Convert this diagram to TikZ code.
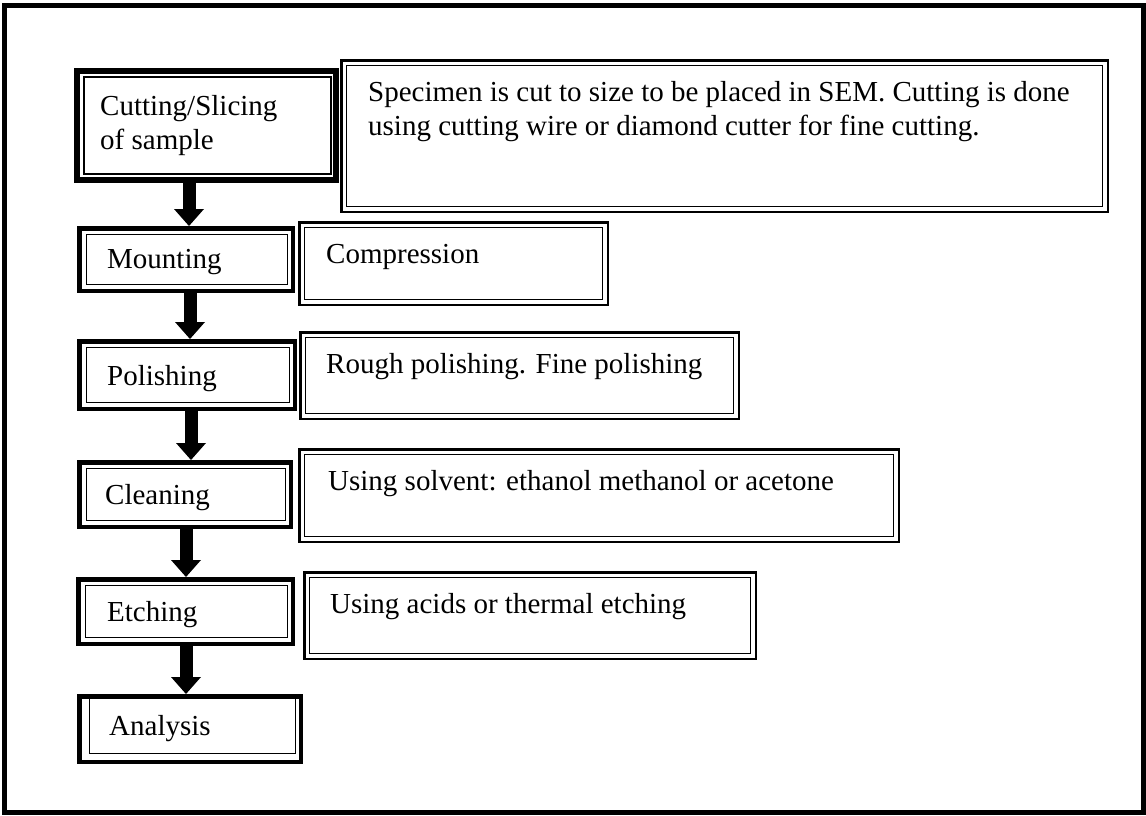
\documentclass[tikz,border=0pt]{standalone}
\usepackage{fontspec}
\setmainfont{Liberation Serif}
\usetikzlibrary{arrows.meta}

\tikzset{
  % thin rule drawn inside a box, inset from its border (left, top, right, bottom)
  inset/.style n args={4}{path picture={
    \draw[line width=1.1pt]
      ([shift={(#1pt,-#2pt)}]path picture bounding box.north west) rectangle
      ([shift={(-#3pt,#4pt)}]path picture bounding box.south east);}},
  stepbox/.style={draw, line width=4.5pt, inner sep=0pt, inset={7}{6}{5}{6}},
  notebox/.style={draw, line width=2.5pt, inner sep=0pt, inset={5}{5}{5}{5}},
  txt/.style={anchor=base west, inner sep=0pt, align=left,
    font=\fontsize{29}{34}\selectfont},
  flow/.style={line width=13pt,
    -{Triangle[width=30pt, length=17pt, line width=0pt]}}
}

\begin{document}
\begin{tikzpicture}[x=1pt, y=1pt]
  \useasboundingbox (0,0) rectangle (1146,-815);
  % page frame
  \draw[line width=5pt] (4.5,-5.5) rectangle (1143.5,-812.5);

  % process steps
  \node[stepbox, line width=6pt, minimum width=259pt, minimum height=109pt] (cut)   at (206.5,-125.5) {};
  \node[stepbox, minimum width=213.5pt, minimum height=62.5pt] (mount) at (186,-259.5) {};
  \node[stepbox, minimum width=215.5pt, minimum height=67.5pt] (polish) at (187,-375) {};
  \node[stepbox, minimum width=211.5pt, minimum height=64.5pt] (clean) at (185,-494.5) {};
  \node[stepbox, minimum width=214.5pt, minimum height=64.5pt] (etch)  at (185.5,-611.5) {};
  \node[stepbox, inset={10}{2}{5}{8}, minimum width=221.5pt, minimum height=65.5pt] (anal) at (190,-729) {};

  % notes beside the steps
  \node[notebox, minimum width=766.5pt, minimum height=151.5pt] (ncut)   at (724.5,-136) {};
  \node[notebox, minimum width=308.5pt, minimum height=82.5pt]  (nmount) at (453.5,-263.5) {};
  \node[notebox, minimum width=438.5pt, minimum height=86.5pt]  (npolish) at (519.5,-375.5) {};
  \node[notebox, minimum width=599.5pt, minimum height=92.5pt]  (nclean) at (599,-495.5) {};
  \node[notebox, minimum width=451.5pt, minimum height=86.5pt]  (netch)  at (530,-615.5) {};

  % step labels (two-line labels are anchored on their last baseline)
  \node[txt] (tcut)    at ([shift={(26pt,-81pt)}]cut.north west) {Cutting/Slicing\\of sample};
  \node[txt] (tmount)  at ([shift={(30pt,-42pt)}]mount.north west) {Mounting};
  \node[txt] (tpolish) at ([shift={(30pt,-46pt)}]polish.north west) {Polishing};
  \node[txt] (tclean)  at ([shift={(28pt,-44pt)}]clean.north west) {Cleaning};
  \node[txt] (tetch)   at ([shift={(31pt,-44pt)}]etch.north west) {Etching};
  \node[txt] (tanal)   at ([shift={(32pt,-41pt)}]anal.north west) {Analysis};

  % note texts
  \node[txt] (tncut)    at ([shift={(28pt,-76pt)}]ncut.north west)
    {Specimen is cut to size to be placed in SEM. Cutting is done\\using cutting wire or diamond cutter for fine cutting.};
  \node[txt] (tnmount)  at ([shift={(28pt,-42pt)}]nmount.north west) {Compression};
  \node[txt] (tnpolish) at ([shift={(27pt,-42pt)}]npolish.north west) {Rough polishing. Fine polishing};
  \node[txt] (tnclean)  at ([shift={(30pt,-42pt)}]nclean.north west) {Using solvent: ethanol methanol or acetone};
  \node[txt] (tnetch)   at ([shift={(27pt,-42pt)}]netch.north west) {Using acids or thermal etching};

  % flow arrows
  \coordinate (a1) at (189,0);
  \coordinate (a2) at (190,0);
  \coordinate (a3) at (191,0);
  \coordinate (a4) at (186,0);
  \coordinate (a5) at (186,0);
  \draw[flow] (cut.south -| a1)    -- (mount.north -| a1);
  \draw[flow] (mount.south -| a2)  -- (polish.north -| a2);
  \draw[flow] (polish.south -| a3) -- (clean.north -| a3);
  \draw[flow] (clean.south -| a4)  -- (etch.north -| a4);
  \draw[flow] (etch.south -| a5)   -- (anal.north -| a5);
\end{tikzpicture}
\end{document}
